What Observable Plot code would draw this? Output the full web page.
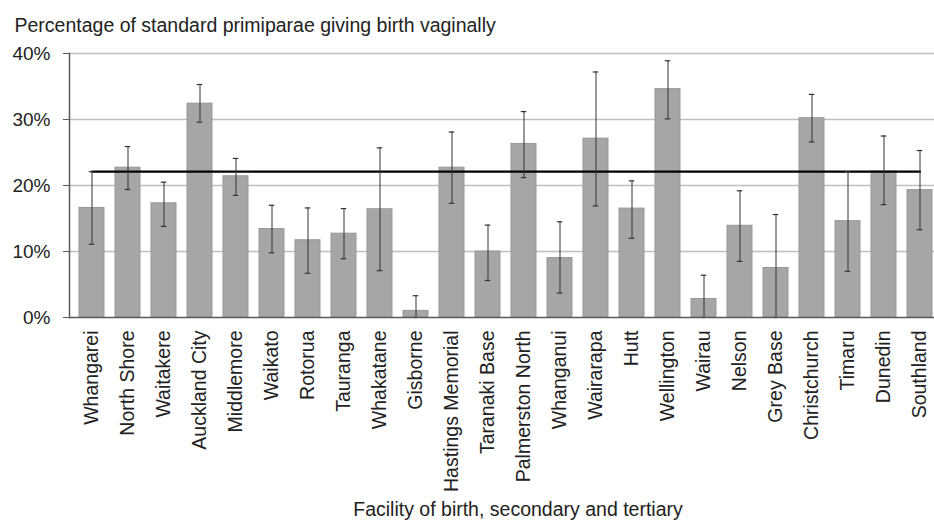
<!DOCTYPE html>
<html>
<head>
<meta charset="utf-8">
<script src="https://cdn.jsdelivr.net/npm/d3@7"></script>
<script src="https://cdn.jsdelivr.net/npm/@observablehq/plot@0.6"></script>
<style>
  body { margin: 0; background: #fff; }
  #chart svg { display: block; }
</style>
</head>
<body>
<div id="chart"></div>
<script>
const title = "Percentage of standard primiparae giving birth vaginally";
const xTitle = "Facility of birth, secondary and tertiary";
const categories = ["Whangarei", "North Shore", "Waitakere", "Auckland City", "Middlemore", "Waikato", "Rotorua", "Tauranga", "Whakatane", "Gisborne", "Hastings Memorial", "Taranaki Base", "Palmerston North", "Whanganui", "Wairarapa", "Hutt", "Wellington", "Wairau", "Nelson", "Grey Base", "Christchurch", "Timaru", "Dunedin", "Southland"];
const values = [16.6, 22.7, 17.3, 32.4, 21.4, 13.4, 11.7, 12.7, 16.4, 1.0, 22.7, 10.0, 26.3, 9.0, 27.1, 16.5, 34.6, 2.8, 13.9, 7.5, 30.2, 14.6, 22.1, 19.3];
const lower = [11.1, 19.4, 13.8, 29.6, 18.5, 9.8, 6.7, 8.9, 7.1, 0, 17.3, 5.6, 21.2, 3.7, 16.9, 12.0, 30.1, 0, 8.5, 0, 26.6, 7.0, 17.1, 13.3];
const upper = [22.1, 25.9, 20.5, 35.3, 24.1, 17.0, 16.6, 16.5, 25.7, 3.3, 28.1, 14.0, 31.2, 14.5, 37.2, 20.7, 38.9, 6.4, 19.2, 15.6, 33.8, 22.1, 27.5, 25.3];
const average = 22.1;
const yTicks = [0, 10, 20, 30, 40];

const data = categories.map((c, i) => ({facility: c, value: values[i], lo: lower[i], hi: upper[i]}));

const W = 934, H = 524;
const mL = 69, mT = 53, mB = 207, mR = 0;
const bandRange = [mL, 943];
const bw = (bandRange[1] - bandRange[0]) / (categories.length - 0.3 + 0.3) * 0.7;
const capInset = (bw - 6) / 2;

const chart = Plot.plot({
  width: W,
  height: H,
  marginLeft: mL,
  marginRight: mR,
  marginTop: mT,
  marginBottom: mB,
  style: {fontFamily: "'Liberation Sans', Arial, sans-serif", fontSize: "19.5px", color: "#222", background: "#fff"},
  x: {domain: categories, range: bandRange, paddingInner: 0.3, paddingOuter: 0.15, label: null},
  y: {domain: [0, 40], label: null},
  marks: [
    Plot.ruleY(yTicks.filter(d => d > 0), {stroke: "#bfbfbf", strokeWidth: 1.5}),
    Plot.barY(data, {x: "facility", y: "value", fill: "#a6a6a6", stroke: "#979797", strokeWidth: 1}),
    Plot.lineY(categories, {x: d => d, y: () => average, stroke: "#000", strokeWidth: 2.2}),
    Plot.ruleX(data, {x: "facility", y1: "lo", y2: "hi", stroke: "#333", strokeWidth: 1}),
    Plot.tickY(data, {x: "facility", y: "hi", stroke: "#333", strokeWidth: 1.2, insetLeft: capInset, insetRight: capInset}),
    Plot.tickY(data, {x: "facility", y: "lo", stroke: "#333", strokeWidth: 1.2, insetLeft: capInset, insetRight: capInset}),
    Plot.ruleY([0], {stroke: "#595959", strokeWidth: 1.5}),
    Plot.frame({anchor: "left", stroke: "#595959", strokeWidth: 1.5}),
    Plot.axisY({ticks: yTicks, tickSize: 6, tickPadding: 13, tickFormat: d => d + "%", stroke: "#595959", fontSize: 19, label: null}),
    Plot.axisX({tickRotate: -90, tickSize: 0, tickPadding: 13, label: null, fontSize: 19.5}),
    Plot.text([title], {text: d => d, frameAnchor: "top-left", dx: -55, dy: -22, textAnchor: "start", lineAnchor: "bottom", fontSize: 19.5, fill: "#222"}),
    Plot.text([xTitle], {text: d => d, frameAnchor: "bottom", dx: 16, dy: 198, lineAnchor: "bottom", fontSize: 19.5, fill: "#222"})
  ]
});
document.getElementById("chart").appendChild(chart);
</script>
</body>
</html>
